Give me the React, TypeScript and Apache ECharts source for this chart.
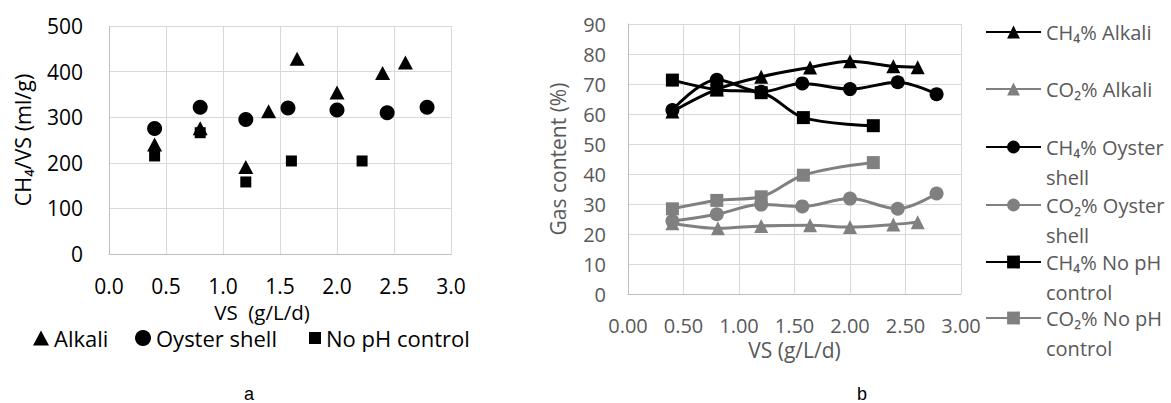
import React, { useEffect, useRef } from "react";
import * as echarts from "echarts";

// ---- Chart a: CH4/VS vs VS loading ----
const alkaliA: [number, number][] = [
  [0.4, 240], [0.8, 276], [1.2, 191], [1.4, 313], [1.65, 428], [2.0, 354], [2.4, 397], [2.6, 420],
];
const oysterA: [number, number][] = [
  [0.4, 275], [0.8, 322], [1.2, 295], [1.57, 320], [2.0, 316], [2.44, 310], [2.79, 322],
];
const noPhA: [number, number][] = [
  [0.4, 215], [0.8, 266], [1.2, 158], [1.6, 204], [2.22, 204],
];

// ---- Chart b: gas content ----
const ch4Alkali: [number, number][] = [
  [0.4, 60.8], [0.8, 68.2], [1.2, 72.4], [1.64, 75.5], [2.0, 77.6], [2.39, 75.9], [2.61, 75.6],
];
const co2Alkali: [number, number][] = [
  [0.4, 23.6], [0.81, 21.9], [1.2, 22.7], [1.64, 22.9], [2.0, 22.3], [2.39, 23.2], [2.61, 23.9],
];
const ch4Oyster: [number, number][] = [
  [0.4, 61.3], [0.8, 71.4], [1.2, 67.4], [1.57, 70.2], [2.0, 68.3], [2.43, 70.6], [2.78, 66.6],
];
const co2Oyster: [number, number][] = [
  [0.4, 24.3], [0.8, 26.6], [1.2, 29.8], [1.57, 29.2], [2.0, 31.8], [2.43, 28.4], [2.78, 33.5],
];
const ch4NoPh: [number, number][] = [
  [0.4, 71.3], [0.8, 68.1], [1.2, 67.1], [1.58, 58.8], [2.21, 56.1],
];
const co2NoPh: [number, number][] = [
  [0.4, 28.4], [0.8, 31.2], [1.2, 32.4], [1.58, 39.6], [2.21, 43.8],
];

const namesB = [
  "CH₄% Alkali",
  "CO₂% Alkali",
  "CH₄% Oyster shell",
  "CO₂% Oyster shell",
  "CH₄% No pH control",
  "CO₂% No pH control",
];
const legendLabelsB = [
  "CH₄% Alkali",
  "CO₂% Alkali",
  " \nCH₄% Oyster\nshell",
  " \nCO₂% Oyster\nshell",
  " \nCH₄% No pH\ncontrol",
  " \nCO₂% No pH\ncontrol",
];

const FONT = "Open Sans";
const BLACK = "#000000";
const GRAY = "#808080";
const TXT_B = "#595959";
const GRID = "#d9d9d9";
const AXIS = "#bfbfbf";

export default function App() {
  const ref = useRef<HTMLDivElement>(null);
  useEffect(() => {
    if (!ref.current) return;
    const chart = echarts.init(ref.current, null, { renderer: "svg" });

    const dataB = [ch4Alkali, co2Alkali, ch4Oyster, co2Oyster, ch4NoPh, co2NoPh];
    const symB = ["triangle", "triangle", "circle", "circle", "rect", "rect"];
    const colB = [BLACK, GRAY, BLACK, GRAY, BLACK, GRAY];
    const symSizeB = [14, 14, 14, 14, 13, 13];
    const legendRowCenters = [32, 89, 147, 205, 262, 318];

    const legendsB = namesB.map((n, i) => {
      const multi = legendLabelsB[i].includes("\n");
      return {
        data: [n],
        orient: "vertical",
        left: 985,
        top: multi ? legendRowCenters[i] - 45 : legendRowCenters[i] - 15,
        padding: 0,
        itemWidth: 55,
        itemHeight: 16,
        itemGap: 0,
        selectedMode: false,
        formatter: () => legendLabelsB[i],
        textStyle: {
          fontFamily: FONT,
          fontSize: 20,
          color: TXT_B,
          lineHeight: 30,
        },
      };
    });

    const legendA = [
      { name: "Alkali", left: 33, w: 16, h: 15 },
      { name: "Oyster shell", left: 135, w: 16, h: 16 },
      { name: "No pH control", left: 309, w: 12, h: 12 },
    ].map((l) => ({
      data: [l.name],
      left: l.left,
      top: 327,
      padding: 0,
      itemWidth: l.w,
      itemHeight: l.h,
      selectedMode: false,
      textStyle: { fontFamily: FONT, fontSize: 22, color: BLACK, lineHeight: 18 },
    }));

    chart.setOption({
      animation: false,
      backgroundColor: "#ffffff",
      textStyle: { fontFamily: FONT },
      legend: [...legendA, ...legendsB],
      grid: [
        { left: 109, top: 26, width: 342, height: 228 },
        { left: 628, top: 24, width: 333, height: 270 },
      ],
      xAxis: [
        {
          type: "value",
          gridIndex: 0,
          min: 0,
          max: 3,
          interval: 0.5,
          name: "VS  (g/L/d)",
          nameLocation: "middle",
          nameGap: 40,
          nameTextStyle: {
            fontFamily: FONT,
            fontSize: 20.5,
            color: BLACK,
            lineHeight: 18,
            padding: [0, 36, 0, 0],
          },
          axisLine: { lineStyle: { color: AXIS, width: 1 } },
          axisTick: { show: false },
          splitLine: { lineStyle: { color: GRID, width: 1 } },
          axisLabel: {
            fontFamily: FONT,
            fontSize: 21,
            color: BLACK,
            margin: 23,
            lineHeight: 18,
            formatter: (v: number) => v.toFixed(1),
          },
        },
        {
          type: "value",
          gridIndex: 1,
          min: 0,
          max: 3,
          interval: 0.5,
          name: "VS (g/L/d)",
          nameLocation: "middle",
          nameGap: 44,
          nameTextStyle: { fontFamily: FONT, fontSize: 21, color: TXT_B },
          axisLine: { lineStyle: { color: AXIS, width: 1 } },
          axisTick: { show: false },
          splitLine: { lineStyle: { color: GRID, width: 1 } },
          axisLabel: {
            fontFamily: FONT,
            fontSize: 20,
            color: TXT_B,
            margin: 21,
            formatter: (v: number) => v.toFixed(2),
          },
        },
      ],
      yAxis: [
        {
          type: "value",
          gridIndex: 0,
          min: 0,
          max: 500,
          interval: 100,
          name: "CH₄/VS (ml/g)",
          nameLocation: "middle",
          nameGap: 76,
          nameTextStyle: { fontFamily: FONT, fontSize: 21.5, color: BLACK },
          axisLine: { show: true, lineStyle: { color: AXIS, width: 1 } },
          axisTick: { show: false },
          splitLine: { lineStyle: { color: GRID, width: 1 } },
          axisLabel: { fontFamily: FONT, fontSize: 21, color: BLACK, margin: 26 },
        },
        {
          type: "value",
          gridIndex: 1,
          min: 0,
          max: 90,
          interval: 10,
          name: "Gas content (%)",
          nameLocation: "middle",
          nameGap: 60,
          nameTextStyle: { fontFamily: FONT, fontSize: 21, color: TXT_B },
          axisLine: { show: true, lineStyle: { color: AXIS, width: 1 } },
          axisTick: { show: false },
          splitLine: { lineStyle: { color: GRID, width: 1 } },
          axisLabel: { fontFamily: FONT, fontSize: 20, color: TXT_B, margin: 22 },
        },
      ],
      series: [
        {
          name: "Alkali",
          type: "scatter",
          xAxisIndex: 0,
          yAxisIndex: 0,
          symbol: "triangle",
          symbolSize: [15, 14],
          itemStyle: { color: BLACK, opacity: 1 },
          data: alkaliA,
        },
        {
          name: "Oyster shell",
          type: "scatter",
          xAxisIndex: 0,
          yAxisIndex: 0,
          symbol: "circle",
          symbolSize: 15,
          itemStyle: { color: BLACK, opacity: 1 },
          data: oysterA,
        },
        {
          name: "No pH control",
          type: "scatter",
          xAxisIndex: 0,
          yAxisIndex: 0,
          symbol: "rect",
          symbolSize: 11,
          itemStyle: { color: BLACK, opacity: 1 },
          data: noPhA,
        },
        ...namesB.map((n, i) => ({
          name: n,
          type: "line",
          xAxisIndex: 1,
          yAxisIndex: 1,
          smooth: 0.35,
          symbol: symB[i],
          symbolSize: symSizeB[i],
          showAllSymbol: true,
          lineStyle: { color: colB[i], width: 3 },
          itemStyle: { color: colB[i], opacity: 1 },
          data: dataB[i],
        })),
      ],
      graphic: [
        {
          type: "text",
          left: 244,
          top: 385,
          style: { text: "a", fontFamily: "Liberation Sans", fontSize: 18, fill: BLACK },
        },
        {
          type: "text",
          left: 857,
          top: 385,
          style: { text: "b", fontFamily: "Liberation Sans", fontSize: 18, fill: BLACK },
        },
      ],
    });
    return () => chart.dispose();
  }, []);
  return (
    <div
      ref={ref}
      style={{ position: "fixed", left: 0, top: 0, width: 1171, height: 403, background: "#fff" }}
    />
  );
}
